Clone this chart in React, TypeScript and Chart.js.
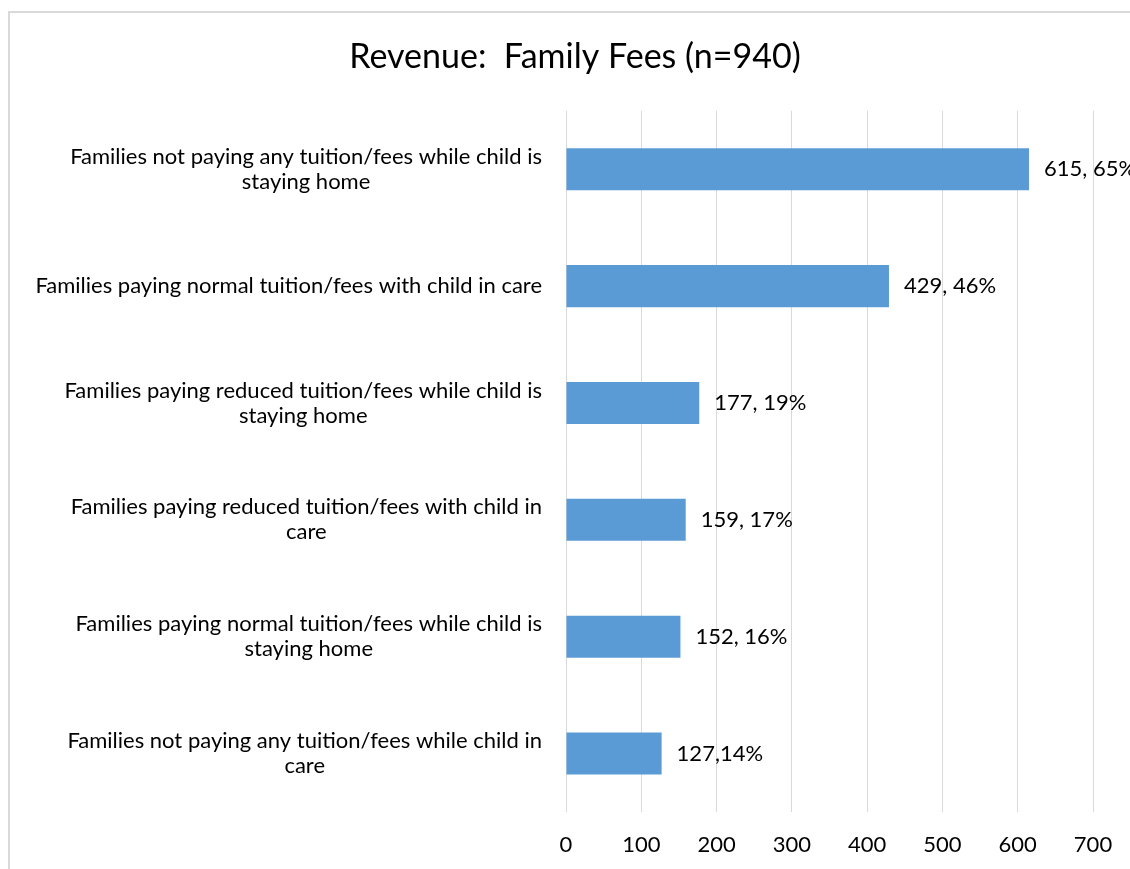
import React, { useEffect, useRef } from "react";
import { Chart, registerables } from "chart.js";

Chart.register(...registerables);

const titleText = "Revenue:  Family Fees (n=940)";
const categories: string[][] = [
  ["Families not paying any tuition/fees while child is", "staying home"],
  ["Families paying normal tuition/fees with child in care"],
  ["Families paying reduced tuition/fees while child is", "staying home"],
  ["Families paying reduced tuition/fees with child in", "care"],
  ["Families paying normal tuition/fees while child is", "staying home"],
  ["Families not paying any tuition/fees while child in", "care"],
];
const counts = [615, 429, 177, 159, 152, 127];
const valueLabels = ["615, 65%", "429, 46%", "177, 19%", "159, 17%", "152, 16%", "127,14%"];
const xMin = 0;
const xMax = 700;
const xStep = 100;

const FONT = "Lato, 'Open Sans', sans-serif";
const TEXT_SIZE = 22;

const categoryLabelPlugin = {
  id: "categoryLabels",
  afterDraw(chart: any) {
    const ctx = chart.ctx;
    const yScale = chart.scales.y;
    const right = chart.chartArea.left - 24;
    const lh = 25;
    ctx.save();
    ctx.font = `${TEXT_SIZE}px ${FONT}`;
    ctx.fillStyle = "#000000";
    ctx.textAlign = "center";
    ctx.textBaseline = "middle";
    categories.forEach((lines, i) => {
      const yc = yScale.getPixelForTick(i);
      const widest = Math.max(...lines.map((l) => ctx.measureText(l).width));
      const cx = right - widest / 2;
      const startY = yc - ((lines.length - 1) * lh) / 2;
      lines.forEach((l, j) => ctx.fillText(l, cx, startY + j * lh));
    });
    ctx.restore();
  },
};

const valueLabelPlugin = {
  id: "valueLabels",
  afterDatasetsDraw(chart: any) {
    const ctx = chart.ctx;
    const meta = chart.getDatasetMeta(0);
    ctx.save();
    ctx.font = `${TEXT_SIZE}px ${FONT}`;
    ctx.fillStyle = "#000000";
    ctx.textAlign = "left";
    ctx.textBaseline = "middle";
    meta.data.forEach((bar: any, i: number) => {
      ctx.fillText(valueLabels[i], bar.x + 15, bar.y);
    });
    ctx.restore();
  },
};

export default function App() {
  const ref = useRef<HTMLCanvasElement | null>(null);
  useEffect(() => {
    if (!ref.current) return;
    const chart = new Chart(ref.current, {
      type: "bar",
      data: {
        labels: categories.map((c) => c.join(" ")),
        datasets: [
          {
            data: counts,
            backgroundColor: "#5B9BD5",
            borderWidth: 0,
            barPercentage: 0.36,
            categoryPercentage: 1,
          },
        ],
      },
      options: {
        indexAxis: "y",
        responsive: false,
        animation: false,
        devicePixelRatio: 1,
        layout: { padding: { left: 10, right: 0, top: 0, bottom: 0 } },
        plugins: {
          legend: { display: false },
          tooltip: { enabled: false },
          title: {
            display: true,
            text: titleText,
            color: "#000000",
            font: { family: FONT, size: 34, weight: "normal" as any, lineHeight: 1.2 },
            padding: { top: 24, bottom: 33 },
          },
        },
        scales: {
          x: {
            min: xMin,
            max: xMax,
            ticks: {
              stepSize: xStep,
              color: "#000000",
              font: { family: FONT, size: TEXT_SIZE },
              padding: 20,
            },
            grid: { color: "#d9d9d9", lineWidth: 1, drawTicks: false },
            border: { display: false },
            afterFit(scale: any) {
              scale.height = 57;
              scale.paddingLeft = 0;
              scale.paddingRight = 37;
            },
          },
          y: {
            ticks: { display: false },
            grid: { display: false, drawTicks: false },
            border: { display: false },
            afterFit(scale: any) {
              scale.width = 546;
            },
          },
        },
      },
      plugins: [categoryLabelPlugin, valueLabelPlugin],
    });
    return () => chart.destroy();
  }, []);

  return (
    <div
      style={{
        position: "absolute",
        left: 8,
        top: 11,
        width: 1122,
        height: 858,
        borderLeft: "2px solid #d9d9d9",
        borderTop: "2px solid #d9d9d9",
        boxSizing: "border-box",
        background: "#ffffff",
      }}
    >
      <canvas ref={ref} width={1120} height={856} style={{ display: "block" }} />
    </div>
  );
}
